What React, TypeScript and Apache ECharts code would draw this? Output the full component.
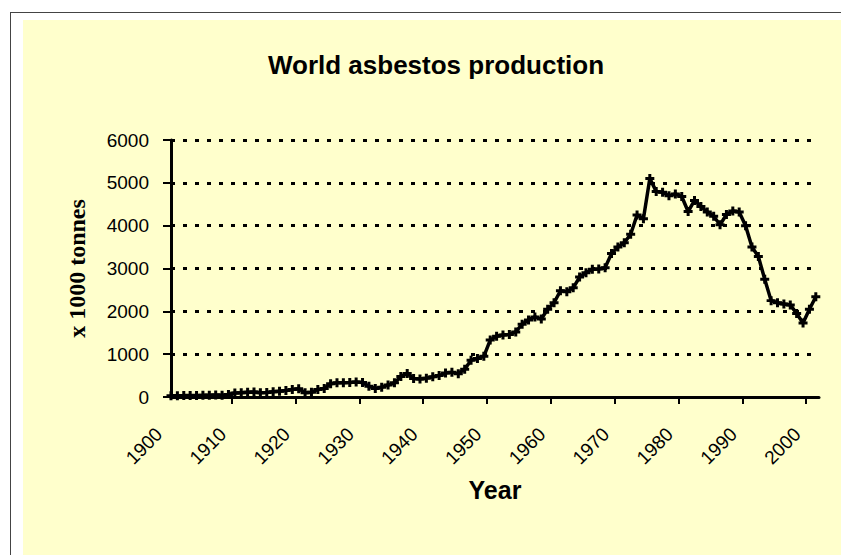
import React, { useEffect, useRef } from "react";
import * as echarts from "echarts";

// World asbestos production, x 1000 tonnes, one value per year from 1900 to 2001
const firstYear = 1900;
const production = [
  30, 32, 33, 35, 36, 38, 42, 45, 40, 60, // 1900-1909
  95, 100, 110, 115, 100, 105, 120, 135, 150, 175, // 1910-1919
  190, 100, 110, 175, 200, 310, 330, 335, 340, 350, // 1920-1929
  340, 250, 200, 230, 280, 330, 480, 550, 430, 420, // 1930-1939
  440, 470, 500, 560, 575, 545, 650, 860, 900, 950, // 1940-1949
  1330, 1420, 1450, 1460, 1520, 1700, 1800, 1870, 1820, 2050, // 1950-1959
  2200, 2480, 2460, 2550, 2800, 2900, 2980, 2990, 3020, 3350, // 1960-1969
  3500, 3600, 3800, 4250, 4160, 5100, 4800, 4780, 4700, 4740, // 1970-1979
  4680, 4330, 4590, 4450, 4320, 4220, 4020, 4260, 4340, 4320, // 1980-1989
  4000, 3500, 3280, 2750, 2250, 2200, 2170, 2150, 1950, 1730, // 1990-1999
  2050, 2340, // 2000-2001
];
const years = production.map((_, i) => firstYear + i);

const xTickLabels = [1900, 1910, 1920, 1930, 1940, 1950, 1960, 1970, 1980, 1990, 2000];
const xTickMarks = [1909.5, 1919.5, 1929.5, 1939.5, 1949.5, 1959.5, 1969.5, 1979.5, 1989.5, 1999.5];
const yTicks = [0, 1000, 2000, 3000, 4000, 5000, 6000];

const titleText = "World asbestos production";
const xName = "Year";
const yName = "x 1000 tonnes";

const SANS = "'Liberation Sans', Arial, sans-serif";
const SERIF = "'Liberation Serif', 'Times New Roman', serif";

export default function App() {
  const ref = useRef<HTMLDivElement>(null);

  useEffect(() => {
    if (!ref.current) return;
    const chart = echarts.init(ref.current, undefined, { renderer: "svg" });
    const points = years.map((y, i) => [y, production[i]]);
    chart.setOption({
      animation: false,
      backgroundColor: "transparent",
      title: {
        text: titleText,
        left: 431,
        top: 47,
        textAlign: "center",
        textStyle: {
          fontFamily: SANS,
          fontWeight: "bold",
          fontSize: 26,
          color: "#000",
        },
      },
      grid: { left: 171, right: 22, top: 140, bottom: 158, containLabel: false },
      xAxis: {
        type: "value",
        min: firstYear,
        max: 2001.5,
        interval: 10,
        name: xName,
        nameLocation: "middle",
        nameGap: 80,
        nameTextStyle: { fontFamily: SANS, fontWeight: "bold", fontSize: 25, color: "#000" },
        axisLine: { show: true, onZero: false, lineStyle: { color: "#000", width: 3 } },
        axisTick: {
          show: true,
          customValues: xTickMarks,
          length: 7,
          inside: false,
          lineStyle: { color: "#000", width: 2 },
        },
        axisLabel: {
          customValues: xTickLabels,
          rotate: 45,
          margin: 22,
          padding: [0, 17, 0, 0],
          fontFamily: SANS,
          fontSize: 19,
          color: "#000",
          formatter: (v: number) => String(v),
        },
        splitLine: { show: false },
      },
      yAxis: {
        type: "value",
        min: yTicks[0],
        max: yTicks[yTicks.length - 1],
        interval: 1000,
        name: yName,
        nameLocation: "middle",
        nameRotate: 90,
        nameGap: 82,
        nameTextStyle: { fontFamily: SERIF, fontWeight: "bold", fontSize: 24, color: "#000" },
        axisLine: { show: true, lineStyle: { color: "#000", width: 3 } },
        axisTick: { show: true, length: 8, lineStyle: { color: "#000", width: 2 } },
        axisLabel: {
          margin: 22,
          fontFamily: SANS,
          fontSize: 19,
          color: "#000",
          formatter: (v: number) => String(v),
        },
        splitLine: {
          show: true,
          lineStyle: { color: "#000", width: 3, type: [4, 8] },
        },
      },
      series: [
        {
          type: "line",
          data: points,
          symbol: "path://M2,0H4V2H6V4H4V6H2V4H0V2H2Z",
          symbolSize: 9,
          showAllSymbol: true,
          lineStyle: { color: "#000", width: 3.5 },
          itemStyle: { color: "#000" },
          z: 5,
        },
      ],
    });
    return () => chart.dispose();
  }, []);

  return (
    <div
      style={{
        position: "absolute",
        left: 0,
        top: 0,
        width: 841,
        height: 555,
        background: "#ffffff",
        overflow: "hidden",
      }}
    >
      <div
        style={{
          position: "absolute",
          left: 10,
          top: 12,
          width: 860,
          height: 580,
          borderLeft: "1px solid #444",
          borderTop: "1px solid #444",
        }}
      />
      <div
        style={{
          position: "absolute",
          left: 23,
          top: 20,
          width: 818,
          height: 535,
          background: "#FFFFCC",
        }}
      />
      <div ref={ref} style={{ position: "absolute", left: 0, top: 0, width: 841, height: 555 }} />
    </div>
  );
}
